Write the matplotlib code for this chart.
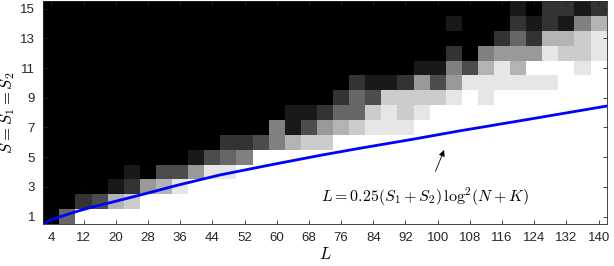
import matplotlib
matplotlib.use("Agg")
import matplotlib.pyplot as plt
import numpy as np

plt.rcParams['font.family'] = ['Liberation Sans', 'DejaVu Sans']
plt.rcParams['mathtext.fontset'] = 'cm'

# L values (columns) and S values (rows)
L_values = list(range(4, 141, 4))
S_values = list(range(1, 16))

# success level per cell, 0 = black .. 10 = white (rows S=1..15, columns L=4..140)
success = [
    [0, 4] + [10] * 33,
    [0, 0, 2, 3, 7, 8] + [10] * 29,
    [0, 0, 0, 0, 1, 2, 6, 7, 9] + [10] * 26,
    [0, 0, 0, 0, 0, 1, 0, 3, 3, 6, 9, 9] + [10] * 23,
    [0] * 9 + [1, 3, 4, 5] + [10] * 22,
    [0] * 11 + [2, 2, 3, 5, 7, 8, 8] + [10] * 17,
    [0] * 14 + [5, 1, 3, 6, 7, 8, 9, 9, 9] + [10] * 12,
    [0] * 15 + [1, 1, 2, 4, 4, 8, 9, 8, 9] + [10] * 11,
    [0] * 18 + [2, 4, 3, 8, 8, 8, 8, 9, 10, 9] + [10] * 7,
    [0] * 19 + [2, 1, 1, 2, 6, 3, 6, 9, 9, 9, 9, 9, 9, 10, 10, 10],
    [0] * 23 + [1, 1, 5, 3, 7, 9, 7, 10, 10, 10, 9, 10],
    [0] * 25 + [2, 0, 5, 6, 6, 6, 9, 8, 8, 9],
    [0] * 28 + [2, 4, 2, 7, 7, 8, 9],
    [0] * 25 + [1, 0, 0, 0, 2, 1, 2, 1, 5, 7],
    [0] * 29 + [1, 0, 2, 2, 1, 2],
]

# bound curve
curve_L = [2, 3.7, 6.2, 9.9, 13.6, 17.8, 26.1, 35.5, 45.9, 58.3, 70.8, 80.7, 93.1, 105.5, 122.9, 142]
curve_S = [0.5, 0.77, 0.99, 1.31, 1.6, 1.88, 2.45, 3.12, 3.80, 4.47, 5.12, 5.6, 6.17, 6.77, 7.56, 8.44]

fig = plt.figure(figsize=(6.14, 2.66), dpi=100)
ax = fig.add_axes([0.0705, 0.158, 0.9176, 0.8375])

L_edges = np.array(L_values + [L_values[-1] + 4]) - 2
S_edges = np.array(S_values + [S_values[-1] + 1]) - 0.5
ax.pcolormesh(L_edges, S_edges, np.array(success), cmap='gray', vmin=0, vmax=10)

ax.plot(curve_L, curve_S, color='#0000ff', lw=2.0, solid_joinstyle='round')

ax.annotate(r'$L = 0.25(S_1 + S_2)\,\log^2\!(N + K)$', xy=(101.6, 5.48), xytext=(96.9, 2.32),
            ha='center', va='center', fontsize=11.5,
            arrowprops=dict(arrowstyle='-|>', color='k', lw=0.6, mutation_scale=9,
                            shrinkA=9, shrinkB=0))

ax.set_xlim(2, 142)
ax.set_ylim(0.5, 15.5)
ax.set_xticks(L_values[::2])
ax.set_yticks(S_values[::2])
ax.tick_params(direction='in', top=True, right=True, length=3, width=0.6,
               labelsize=9.5, colors='0.15', pad=6)
for sp in ax.spines.values():
    sp.set_color('0.15')
    sp.set_linewidth(0.6)

ax.set_xlabel(r'$L$', fontsize=12, labelpad=1)
ax.set_ylabel(r'$S = S_1 = S_2$', fontsize=12)
ax.yaxis.set_label_coords(-0.046, 0.5)

fig.savefig('out.png', dpi=100)
